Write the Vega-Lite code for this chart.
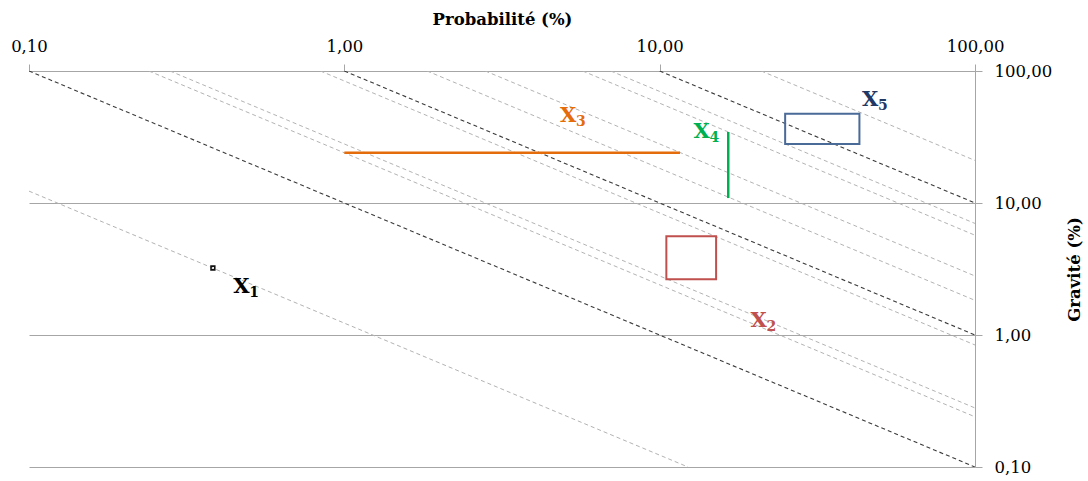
{
  "$schema": "https://vega.github.io/schema/vega-lite/v6.json",
  "width": 946,
  "height": 396,
  "autosize": {"type": "none"},
  "padding": {"left": 29, "top": 71, "right": 113, "bottom": 14},
  "background": "white",
  "config": {
    "view": {"stroke": null},
    "font": "DejaVu Serif",
    "axis": {"labelFont": "DejaVu Serif", "titleFont": "DejaVu Serif"}
  },
  "datasets": {
    "isolines": [
      {"id": "B10", "kind": "black", "x": 0.1, "y": 100},
      {"id": "B10", "kind": "black", "x": 100, "y": 0.1},
      {"id": "B100", "kind": "black", "x": 1, "y": 100},
      {"id": "B100", "kind": "black", "x": 100, "y": 1},
      {"id": "B1000", "kind": "black", "x": 10, "y": 100},
      {"id": "B1000", "kind": "black", "x": 100, "y": 10},
      {"id": "G1", "kind": "gray", "x": 0.1, "y": 12.3},
      {"id": "G1", "kind": "gray", "x": 12.3, "y": 0.1},
      {"id": "G24", "kind": "gray", "x": 0.24, "y": 100},
      {"id": "G24", "kind": "gray", "x": 100, "y": 0.24},
      {"id": "G28", "kind": "gray", "x": 0.28, "y": 100},
      {"id": "G28", "kind": "gray", "x": 100, "y": 0.28},
      {"id": "G84", "kind": "gray", "x": 0.84, "y": 100},
      {"id": "G84", "kind": "gray", "x": 100, "y": 0.84},
      {"id": "G183", "kind": "gray", "x": 1.83, "y": 100},
      {"id": "G183", "kind": "gray", "x": 100, "y": 1.83},
      {"id": "G280", "kind": "gray", "x": 2.8, "y": 100},
      {"id": "G280", "kind": "gray", "x": 100, "y": 2.8},
      {"id": "G570", "kind": "gray", "x": 5.7, "y": 100},
      {"id": "G570", "kind": "gray", "x": 100, "y": 5.7},
      {"id": "G700", "kind": "gray", "x": 7.0, "y": 100},
      {"id": "G700", "kind": "gray", "x": 100, "y": 7.0},
      {"id": "G2100", "kind": "gray", "x": 21, "y": 100},
      {"id": "G2100", "kind": "gray", "x": 100, "y": 21}
    ],
    "boxes": [
      {"name": "X2", "x": 10.5, "x2": 15.1, "y": 2.65, "y2": 5.6},
      {"name": "X5", "x": 25, "x2": 43, "y": 28, "y2": 47.5}
    ],
    "segments": [
      {"name": "X3", "x": 1.0, "x2": 11.6, "y": 24, "y2": 24},
      {"name": "X4", "x": 16.5, "x2": 16.5, "y": 10.9, "y2": 34.5}
    ],
    "points": [
      {"name": "X1", "x": 0.383, "y": 3.22}
    ],
    "labels": [
      {"name": "X1", "main": "X", "sub": "1", "x": 0.444, "y": 2.08},
      {"name": "X2", "main": "X", "sub": "2", "x": 19.4, "y": 1.15},
      {"name": "X3", "main": "X", "sub": "3", "x": 4.83, "y": 41.1},
      {"name": "X4", "main": "X", "sub": "4", "x": 12.8, "y": 31.0},
      {"name": "X5", "main": "X", "sub": "5", "x": 43.8, "y": 54.3}
    ]
  },
  "layer": [
    {
      "data": {"name": "isolines"},
      "transform": [{"filter": "datum.kind === 'gray'"}],
      "mark": {"type": "line", "clip": true, "color": "#b3b3b3", "strokeWidth": 1, "strokeDash": [4, 3]},
      "encoding": {
        "x": {
          "field": "x", "type": "quantitative",
          "scale": {"type": "log", "domain": [0.1, 100], "nice": false},
          "title": "Probabilité (%)",
          "axis": {
            "orient": "top",
            "values": [0.1, 1, 10, 100],
            "labelExpr": "replace(format(datum.value, '.2f'), '.', ',')",
            "grid": false,
            "domain": true,
            "domainColor": "#a6a6a6",
            "domainWidth": 1,
            "ticks": true,
            "tickColor": "#a6a6a6",
            "tickSize": 7,
            "labelFontSize": 16.5,
            "labelColor": "#000000",
            "labelPadding": 10,
            "labelFlush": false,
            "titleFontSize": 16.5,
            "titleFontWeight": "bold",
            "titleColor": "#000000",
            "titlePadding": 11
          }
        },
        "y": {
          "field": "y", "type": "quantitative",
          "scale": {"type": "log", "domain": [0.1, 100], "nice": false},
          "title": "Gravité (%)",
          "axis": {
            "orient": "right",
            "values": [0.1, 1, 10, 100],
            "labelExpr": "replace(format(datum.value, '.2f'), '.', ',')",
            "grid": true,
            "gridColor": "#a6a6a6",
            "gridWidth": 1,
            "domain": true,
            "domainColor": "#a6a6a6",
            "domainWidth": 1,
            "ticks": true,
            "tickColor": "#a6a6a6",
            "tickSize": 7,
            "labelFontSize": 16.5,
            "labelColor": "#000000",
            "labelPadding": 12,
            "labelFlush": false,
            "labelBaseline": "middle",
            "titleFontSize": 16.5,
            "titleFontWeight": "bold",
            "titleColor": "#000000",
            "titleAngle": -90,
            "titlePadding": 31
          }
        },
        "detail": {"field": "id"}
      }
    },
    {
      "data": {"name": "isolines"},
      "transform": [{"filter": "datum.kind === 'black'"}],
      "mark": {"type": "line", "clip": true, "color": "#3a3a3a", "strokeWidth": 1.1, "strokeDash": [4, 3]},
      "encoding": {
        "x": {"field": "x", "type": "quantitative", "title": "Probabilité (%)"},
        "y": {"field": "y", "type": "quantitative", "title": "Gravité (%)"},
        "detail": {"field": "id"}
      }
    },
    {
      "data": {"name": "boxes"},
      "mark": {"type": "rect", "fillOpacity": 0, "strokeWidth": 2},
      "encoding": {
        "x": {"field": "x", "type": "quantitative", "title": "Probabilité (%)"},
        "x2": {"field": "x2"},
        "y": {"field": "y", "type": "quantitative", "title": "Gravité (%)"},
        "y2": {"field": "y2"},
        "stroke": {
          "field": "name", "type": "nominal", "legend": null,
          "scale": {"domain": ["X2", "X5"], "range": ["#c0504d", "#4a6a98"]}
        }
      }
    },
    {
      "data": {"name": "segments"},
      "mark": {"type": "rule", "strokeWidth": 2.5},
      "encoding": {
        "x": {"field": "x", "type": "quantitative", "title": "Probabilité (%)"},
        "x2": {"field": "x2"},
        "y": {"field": "y", "type": "quantitative", "title": "Gravité (%)"},
        "y2": {"field": "y2"},
        "color": {
          "field": "name", "type": "nominal", "legend": null,
          "scale": {"domain": ["X1", "X2", "X3", "X4", "X5"], "range": ["#000000", "#c0504d", "#e46c0a", "#00b050", "#1f3864"]}
        }
      }
    },
    {
      "data": {"name": "points"},
      "mark": {"type": "point", "shape": "square", "size": 14, "filled": false, "stroke": "#111111", "strokeWidth": 1.6, "opacity": 1},
      "encoding": {
        "x": {"field": "x", "type": "quantitative", "title": "Probabilité (%)"},
        "y": {"field": "y", "type": "quantitative", "title": "Gravité (%)"}
      }
    },
    {
      "data": {"name": "labels"},
      "mark": {"type": "text", "align": "left", "baseline": "alphabetic", "font": "DejaVu Serif", "fontWeight": "bold", "fontSize": 21},
      "encoding": {
        "x": {"field": "x", "type": "quantitative", "title": "Probabilité (%)"},
        "y": {"field": "y", "type": "quantitative", "title": "Gravité (%)"},
        "text": {"field": "main"},
        "color": {
          "field": "name", "type": "nominal", "legend": null,
          "scale": {"domain": ["X1", "X2", "X3", "X4", "X5"], "range": ["#000000", "#c0504d", "#e46c0a", "#00b050", "#1f3864"]}
        }
      }
    },
    {
      "data": {"name": "labels"},
      "mark": {"type": "text", "align": "left", "baseline": "alphabetic", "font": "DejaVu Serif", "fontWeight": "bold", "fontSize": 14, "dx": 16, "dy": 4},
      "encoding": {
        "x": {"field": "x", "type": "quantitative", "title": "Probabilité (%)"},
        "y": {"field": "y", "type": "quantitative", "title": "Gravité (%)"},
        "text": {"field": "sub"},
        "color": {
          "field": "name", "type": "nominal", "legend": null,
          "scale": {"domain": ["X1", "X2", "X3", "X4", "X5"], "range": ["#000000", "#c0504d", "#e46c0a", "#00b050", "#1f3864"]}
        }
      }
    }
  ]
}
